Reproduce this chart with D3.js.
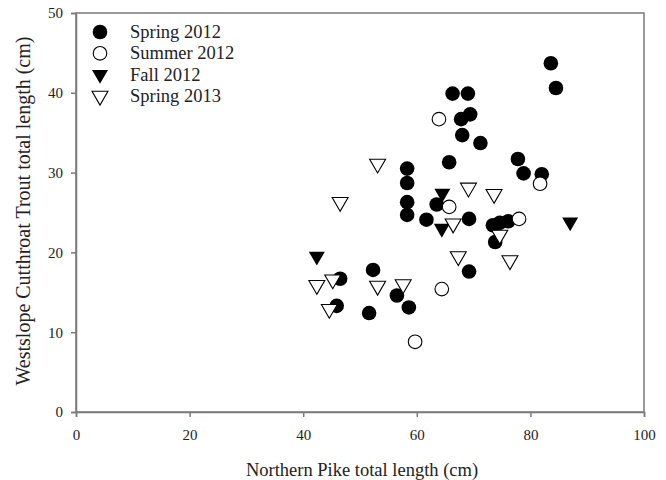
<!DOCTYPE html>
<html>
<head>
<meta charset="utf-8">
<script src="https://cdn.jsdelivr.net/npm/d3@7"></script>
<style>
  body { margin: 0; background: #fff; }
  svg text { font-family: "Liberation Serif", "Times New Roman", serif; fill: #222; }
</style>
</head>
<body>
<svg id="chart" width="666" height="480"></svg>
<script>
// values: [pike length, trout length]
const spring2012 = [
  [83.6, 43.7], [84.5, 40.6], [66.3, 39.9], [69.0, 39.9], [69.4, 37.3], [67.8, 36.7],
  [68.0, 34.7], [71.2, 33.7], [65.7, 31.3], [77.8, 31.7], [78.8, 29.9], [82.0, 29.8],
  [58.3, 30.5], [58.3, 28.7], [58.3, 26.3], [58.3, 24.7], [61.7, 24.1], [63.5, 26.0],
  [69.2, 24.2], [73.4, 23.4], [74.6, 23.7], [76.1, 23.9], [73.8, 21.3], [69.2, 17.6],
  [52.3, 17.8], [46.5, 16.7], [45.9, 13.3], [51.6, 12.4], [56.5, 14.6], [58.6, 13.1]
];
const summer2012 = [
  [63.9, 36.7], [81.7, 28.6], [65.7, 25.7], [78.0, 24.2], [64.4, 15.4], [59.7, 8.8]
];
const fall2012 = [
  [42.4, 19.5], [64.5, 27.4], [64.4, 23.0], [87.0, 23.8]
];
const spring2013 = [
  [53.1, 31.1], [46.5, 26.3], [69.1, 28.1], [73.6, 27.3], [66.4, 23.6], [74.6, 22.2],
  [67.3, 19.5], [76.4, 19.0], [42.4, 15.9], [45.2, 16.6], [44.6, 12.9], [53.1, 15.8],
  [57.6, 16.0]
];

const seriesNames = ["Spring 2012", "Summer 2012", "Fall 2012", "Spring 2013"];
const xTicks = [0, 20, 40, 60, 80, 100];
const yTicks = [0, 10, 20, 30, 40, 50];

const series = [
  { name: seriesNames[0], data: spring2012, shape: "circle", filled: true },
  { name: seriesNames[1], data: summer2012, shape: "circle", filled: false },
  { name: seriesNames[2], data: fall2012, shape: "tri", filled: true },
  { name: seriesNames[3], data: spring2013, shape: "tri", filled: false }
];

const margin = { top: 13, right: 22, bottom: 68, left: 76 };
const width = 666 - margin.left - margin.right;
const height = 480 - margin.top - margin.bottom;

const svg = d3.select("#chart");
const plot = svg.append("g")
  .attr("transform", `translate(${margin.left},${margin.top})`);

const x = d3.scaleLinear().domain([0, 100]).range([0, width]);
const y = d3.scaleLinear().domain([0, 50]).range([height, 0]);

const axisColor = "#7a7a7a";

// frame
plot.append("rect")
  .attr("width", width)
  .attr("height", height)
  .attr("fill", "none")
  .attr("stroke", axisColor)
  .attr("stroke-width", 1.5);

const xAxis = plot.append("g")
  .attr("transform", `translate(0,${height})`)
  .call(d3.axisBottom(x).tickValues(xTicks).tickSize(5).tickPadding(12).tickFormat(d3.format("d")));
const yAxis = plot.append("g")
  .call(d3.axisLeft(y).tickValues(yTicks).tickSize(5).tickPadding(8).tickFormat(d3.format("d")));

[xAxis, yAxis].forEach(a => {
  a.select(".domain").attr("stroke", axisColor).attr("stroke-width", 1.5);
  a.selectAll(".tick line").attr("stroke", axisColor).attr("stroke-width", 1.5);
  a.selectAll(".tick text").style("font-size", "15px").attr("fill", "#222");
});

const tri = d3.symbol().type(d3.symbolTriangle).size(110);

function drawMark(sel, s) {
  if (s.shape === "circle") {
    sel.append("circle")
      .attr("r", s.filled ? 7.3 : 6.8)
      .attr("fill", s.filled ? "#000" : "#fff")
      .attr("stroke", "#000")
      .attr("stroke-width", s.filled ? 0 : 1.1);
  } else {
    sel.append("path")
      .attr("d", tri)
      .attr("transform", "rotate(180)")
      .attr("fill", s.filled ? "#000" : "#fff")
      .attr("stroke", "#000")
      .attr("stroke-width", s.filled ? 0 : 1.1);
  }
}

series.forEach(s => {
  plot.append("g")
    .selectAll("g")
    .data(s.data)
    .join("g")
    .attr("transform", d => `translate(${x(d[0])},${y(d[1])})`)
    .each(function() { drawMark(d3.select(this), s); });
});

// legend
const legend = plot.append("g").attr("transform", "translate(24,19)");
series.forEach((s, i) => {
  const row = legend.append("g").attr("transform", `translate(0,${i * 21.3})`);
  drawMark(row, s);
  row.append("text")
    .attr("x", 30)
    .attr("y", 6)
    .style("font-size", "18.5px")
    .text(s.name);
});

// axis titles
svg.append("text")
  .attr("x", margin.left + width / 2 + 2)
  .attr("y", 476)
  .attr("text-anchor", "middle")
  .style("font-size", "18.5px")
  .text("Northern Pike total length (cm)");

svg.append("text")
  .attr("transform", `translate(30,211) rotate(-90)`)
  .attr("text-anchor", "middle")
  .style("font-size", "20px")
  .text("Westslope Cutthroat Trout total length (cm)");
</script>
</body>
</html>
